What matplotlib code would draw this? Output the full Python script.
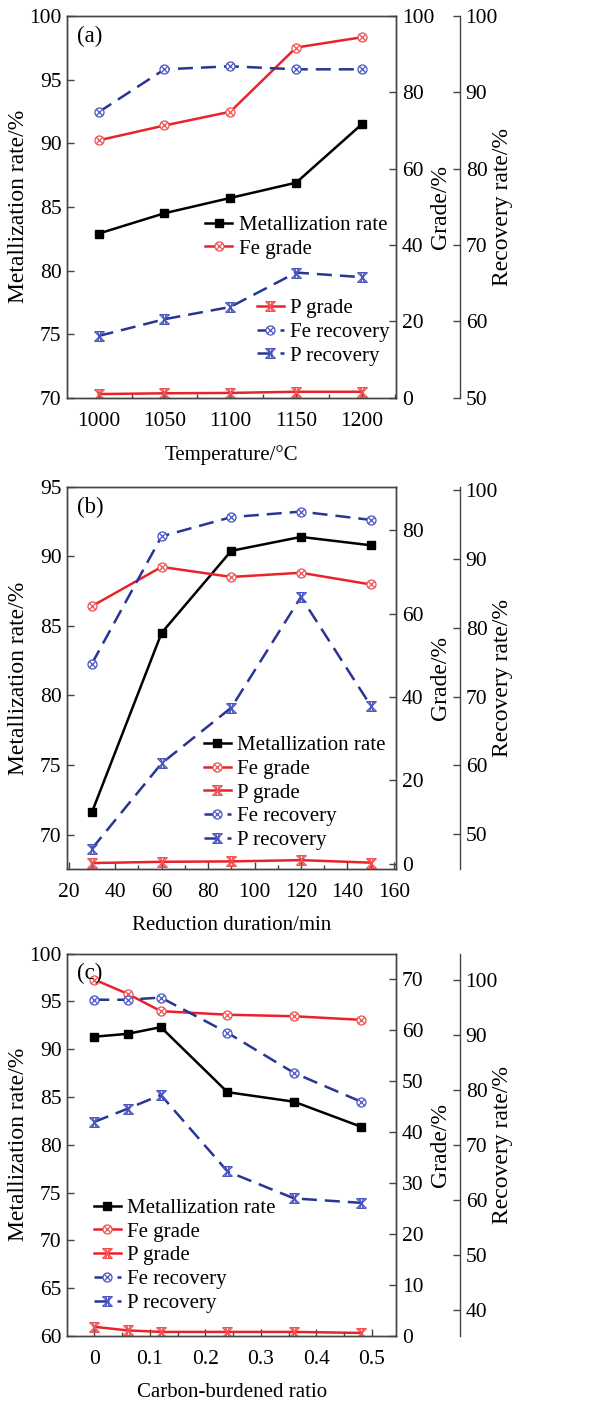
import numpy as np
import matplotlib
matplotlib.use('Agg')
import matplotlib.pyplot as plt
from matplotlib.path import Path
from matplotlib.ticker import MultipleLocator

plt.rcParams['font.family'] = ['Liberation Serif', 'DejaVu Serif']
plt.rcParams['font.size'] = 15

# ---- data ----
temp = [1000, 1050, 1100, 1150, 1200]
temp_metal = [82.9, 84.5, 85.7, 86.9, 91.5]
temp_fe_grade = [67.4, 71.3, 74.9, 91.7, 94.4]
temp_p_grade = [1.0, 1.2, 1.3, 1.6, 1.6]
temp_fe_rec = [87.4, 93.0, 93.4, 93.0, 93.0]
temp_p_rec = [58.1, 60.3, 61.9, 66.4, 65.8]

dur = [30, 60, 90, 120, 150]
dur_metal = [71.6, 84.5, 90.4, 91.4, 90.8]
dur_fe_grade = [61.8, 71.2, 68.8, 69.8, 67.0]
dur_p_grade = [0.2, 0.5, 0.6, 0.9, 0.3]
dur_fe_rec = [74.8, 93.3, 96.1, 96.9, 95.7]
dur_p_rec = [47.9, 60.3, 68.4, 84.5, 68.7]

cbr = [0, 0.06, 0.12, 0.24, 0.36, 0.48]
cbr_metal = [91.3, 91.6, 92.3, 85.5, 84.5, 81.9]
cbr_fe_grade = [69.9, 67.1, 63.7, 63.0, 62.7, 62.0]
cbr_p_grade = [1.8, 1.1, 0.8, 0.8, 0.8, 0.6]
cbr_fe_rec = [96.4, 96.4, 96.8, 90.4, 83.1, 77.9]
cbr_p_rec = [74.2, 76.6, 79.1, 65.2, 60.3, 59.5]

labels = ['Metallization rate', 'Fe grade', 'P grade', 'Fe recovery', 'P recovery']

# ---- markers ----
circ = Path.unit_circle()
cross = Path([(-0.7, -0.7), (0.7, 0.7), (-0.7, 0.7), (0.7, -0.7)],
             [Path.MOVETO, Path.LINETO, Path.MOVETO, Path.LINETO])
circ_x = Path.make_compound_path(circ, cross)
hg = Path([(-1, 1), (1, 1), (-1, -1), (1, -1), (-1, 1), (1, -1), (1, 1), (-1, -1),
           (-0.4, 1), (0.4, -1), (0.4, 1), (-0.4, -1)],
          [Path.MOVETO, Path.LINETO, Path.MOVETO, Path.LINETO,
           Path.MOVETO, Path.LINETO, Path.MOVETO, Path.LINETO,
           Path.MOVETO, Path.LINETO, Path.MOVETO, Path.LINETO])

red = '#e8232a'
blue = '#283593'
red_m = '#f05050'
blue_m = '#4a56c0'
lw = 1.8
dash = (6, 3.2)
axc = '#444444'
legkw = dict(loc='upper left', frameon=False, handlelength=1.3,
             handletextpad=0.3, labelspacing=0.2, borderpad=0, fontsize=15)

fig = plt.figure(figsize=(6.04, 14.01), dpi=100)


def panel(rect, x, metal, feg, pg, fer, pr, xlim, ylim1, ylim2, ylim3,
          yt1, yt2, yt3, xmaj, xmin, xlabel, tag, xticks_fmt=None):
    ax = fig.add_axes(rect)
    ax2 = ax.twinx()
    ax3 = ax.twinx()
    ax3.spines['right'].set_position(('outward', 46))
    h1, = ax.plot(x, metal, '-', color='black', lw=lw, marker='s', ms=6,
                  mfc='black', mec='black', label=labels[0])
    h2, = ax2.plot(x, feg, '-', color=red, lw=lw, marker=circ_x, ms=6.5,
                   mfc='white', mec=red_m, mew=0.9, label=labels[1])
    h3, = ax2.plot(x, pg, '-', color=red, lw=lw, marker=hg, ms=7,
                   mfc='none', mec=red_m, mew=0.9, label=labels[2])
    h4, = ax3.plot(x, fer, '--', color=blue, lw=lw, dashes=dash, marker=circ_x,
                   ms=6.5, mfc='white', mec=blue_m, mew=0.9, label=labels[3])
    h5, = ax3.plot(x, pr, '--', color=blue, lw=lw, dashes=dash, marker=hg,
                   ms=7, mfc='none', mec=blue_m, mew=0.9, label=labels[4])
    ax.set_xlim(*xlim)
    ax.set_ylim(*ylim1)
    ax2.set_ylim(*ylim2)
    ax3.set_ylim(*ylim3)
    ax.set_yticks(yt1)
    ax2.set_yticks(yt2)
    ax3.set_yticks(yt3)
    ax.xaxis.set_major_locator(MultipleLocator(xmaj))
    ax.xaxis.set_minor_locator(MultipleLocator(xmin))
    if xticks_fmt is not None:
        ax.set_xticks(xticks_fmt[0])
        ax.set_xticklabels(xticks_fmt[1])
    ax.set_xlabel(xlabel, labelpad=10, fontsize=15)
    ax.set_ylabel('Metallization rate/%', fontsize=17)
    ax2.set_ylabel('Grade/%', fontsize=17)
    ax3.set_ylabel('Recovery rate/%', fontsize=17)
    for a, xc in ((ax, -0.146), (ax2, 1.134), (ax3, 1.322)):
        a.yaxis.set_label_coords(xc, 0.5)
        a.yaxis.label.set_va('center')
        for s in a.spines.values():
            s.set_color(axc)
            s.set_linewidth(1.0)
        a.tick_params(direction='in', length=5, width=1.0, color=axc, pad=4,
                      labelsize=15.5)
        a.tick_params(which='minor', direction='in', length=3, width=1.0, color=axc)
    ax.tick_params(axis='x', pad=10)
    ax3.spines['left'].set_visible(False)
    ax3.spines['top'].set_visible(False)
    ax3.spines['bottom'].set_visible(False)
    ax3.text(0.03, 0.975, tag, transform=ax.transAxes, ha='left', va='top',
             fontsize=16.5)
    return ax, ax2, ax3, [h1, h2, h3, h4, h5]


# (a)
ax, ax2, ax3, hs = panel([0.111, 0.716, 0.545, 0.2727], temp, temp_metal,
                         temp_fe_grade, temp_p_grade, temp_fe_rec, temp_p_rec,
                         (976, 1226), (70, 100), (0, 100), (50, 100),
                         range(70, 101, 5), range(0, 101, 20), range(50, 101, 10),
                         50, 25, 'Temperature/°C', '(a)')
leg1 = ax3.legend(hs[:2], labels[:2], bbox_to_anchor=(0.388, 0.505), **legkw)
ax3.add_artist(leg1)
ax3.legend(hs[2:], labels[2:], bbox_to_anchor=(0.544, 0.287), **legkw)

# (b)
ax, ax2, ax3, hs = panel([0.111, 0.3795, 0.545, 0.273], dur, dur_metal,
                         dur_fe_grade, dur_p_grade, dur_fe_rec, dur_p_rec,
                         (19.3, 161), (67.5, 95), (-1.3, 90.4), (44.9, 100.5),
                         range(70, 96, 5), range(0, 81, 20), range(50, 101, 10),
                         20, 10, 'Reduction duration/min', '(b)')
ax3.legend(hs, labels, bbox_to_anchor=(0.383, 0.377), **legkw)

# (c)
ax, ax2, ax3, hs = panel([0.111, 0.0464, 0.545, 0.273], cbr, cbr_metal,
                         cbr_fe_grade, cbr_p_grade, cbr_fe_rec, cbr_p_rec,
                         (-0.049, 0.544), (60, 100), (0, 75), (35.3, 104.8),
                         range(60, 101, 5), range(0, 71, 10), range(40, 101, 10),
                         0.1, 0.05, 'Carbon-burdened ratio', '(c)',
                         xticks_fmt=([0, 0.1, 0.2, 0.3, 0.4, 0.5],
                                     ['0', '0.1', '0.2', '0.3', '0.4', '0.5']))
ax3.legend(hs, labels, bbox_to_anchor=(0.05, 0.387), **legkw)

fig.savefig('out.png', dpi=100)
